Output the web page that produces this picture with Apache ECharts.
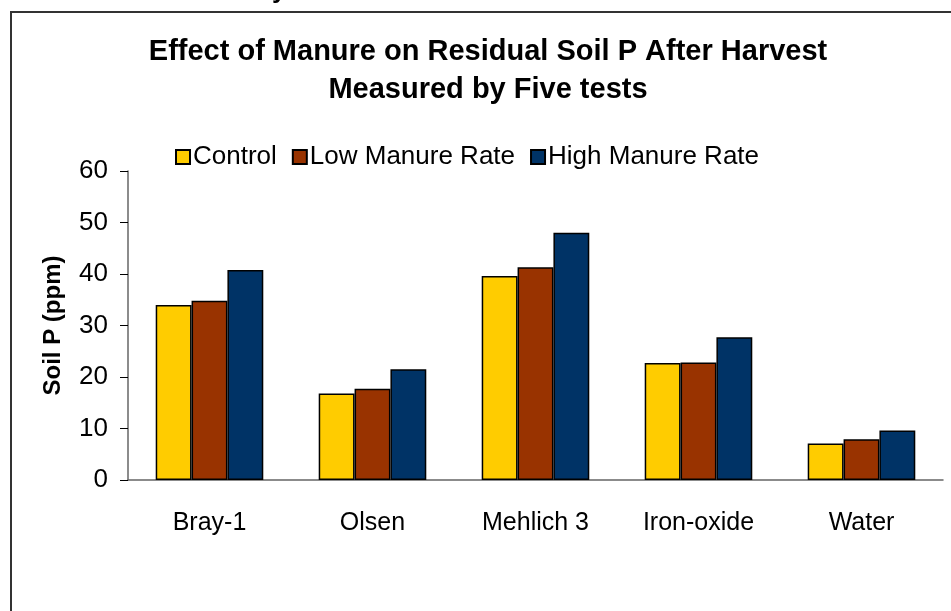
<!DOCTYPE html>
<html>
<head>
<meta charset="utf-8">
<script src="https://cdn.jsdelivr.net/npm/echarts@6/dist/echarts.min.js"></script>
<style>
  html, body { margin: 0; padding: 0; background: #fff; }
  #main { width: 951px; height: 611px; }
</style>
</head>
<body>
<div id="main"></div>
<script>
// soil tests on the x axis
var tests = ['Bray-1', 'Olsen', 'Mehlich 3', 'Iron-oxide', 'Water'];
// soil P (ppm) for each treatment
var control = [34.0, 16.8, 39.6, 22.7, 7.1];
var lowManure = [34.8, 17.7, 41.3, 22.8, 7.9];
var highManure = [40.8, 21.5, 48.0, 27.7, 9.6];
var yTicks = [0, 10, 20, 30, 40, 50, 60];

var font = 'Arial, "Liberation Sans", sans-serif';

var chart = echarts.init(document.getElementById('main'));

function barSeries(name, data, color) {
  return {
    name: name,
    type: 'bar',
    data: data,
    barGap: '0%',
    barCategoryGap: '34%',
    itemStyle: { color: color, borderColor: '#000', borderWidth: 1.5 }
  };
}

var option = {
  backgroundColor: '#fff',
  animation: false,
  legend: {
    left: 175,
    top: 144,
    padding: 0,
    itemWidth: 14,
    itemHeight: 14,
    itemGap: 15,
    icon: 'rect',
    textStyle: { fontFamily: font, fontSize: 26, color: '#000', padding: [0, 0, 0, -2] },
    data: ['Control', 'Low Manure Rate', 'High Manure Rate']
  },
  grid: { left: 128, right: 8, top: 171, bottom: 131, containLabel: false },
  xAxis: {
    type: 'category',
    data: tests,
    axisLine: { lineStyle: { color: '#666', width: 1.5 } },
    axisTick: { length: 8, lineStyle: { color: '#000' } },
    axisLabel: { fontFamily: font, fontSize: 25, color: '#000', margin: 31 }
  },
  yAxis: {
    type: 'value',
    min: yTicks[0],
    max: yTicks[yTicks.length - 1],
    interval: 10,
    name: 'Soil P (ppm)',
    nameLocation: 'middle',
    nameGap: 63,
    nameTextStyle: { fontFamily: font, fontSize: 24, fontWeight: 'bold', color: '#000' },
    axisLine: { show: true, lineStyle: { color: '#666', width: 1.5 } },
    axisTick: { show: true, length: 8, lineStyle: { color: '#000' } },
    splitLine: { show: false },
    axisLabel: { fontFamily: font, fontSize: 26, color: '#000', margin: 20 }
  },
  graphic: [
    {
      type: 'rect',
      shape: { x: 11, y: 12, width: 1000, height: 700 },
      style: { fill: 'none', stroke: '#333', lineWidth: 2 },
      silent: true
    },
    {
      type: 'text',
      x: 272,
      y: -22,
      style: { text: 'y', fontFamily: font, fontSize: 26, fontWeight: 'bold', fill: '#000' },
      silent: true
    },
    {
      type: 'text',
      x: 488,
      y: 33,
      style: {
        text: 'Effect of Manure on Residual Soil P After Harvest\nMeasured by Five tests',
        fontFamily: font, fontSize: 29, fontWeight: 'bold', fill: '#000',
        lineHeight: 38, align: 'center', verticalAlign: 'top'
      },
      silent: true
    }
  ],
  series: [
    barSeries('Control', control, '#FFCC00'),
    barSeries('Low Manure Rate', lowManure, '#993300'),
    barSeries('High Manure Rate', highManure, '#003366')
  ]
};

chart.setOption(option);
</script>
</body>
</html>
